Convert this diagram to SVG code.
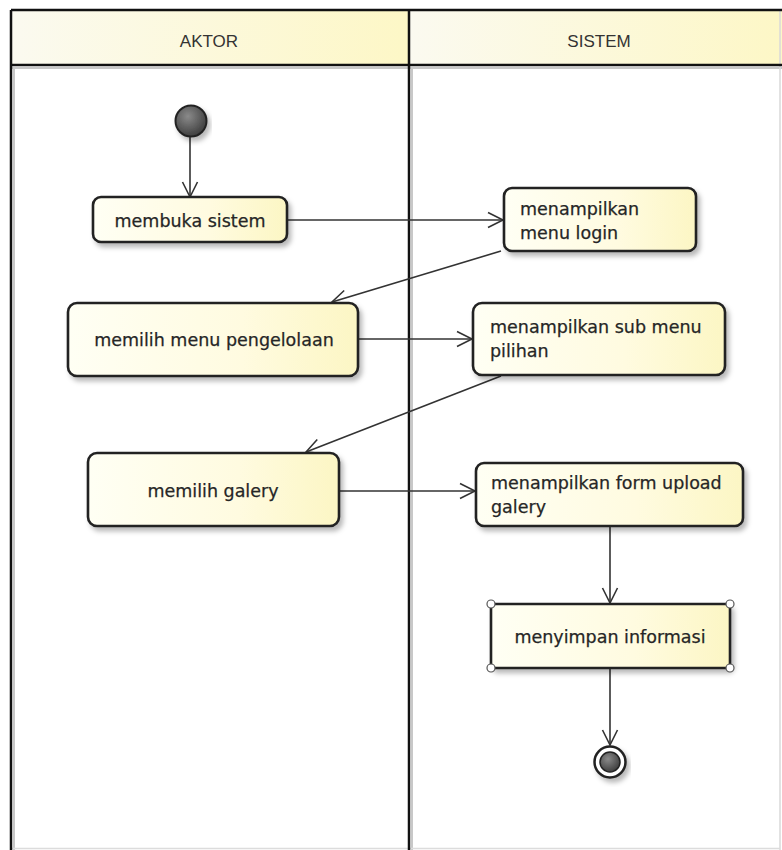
<svg xmlns="http://www.w3.org/2000/svg" width="782" height="850" viewBox="0 0 782 850">
<defs>
<linearGradient id="boxg" x1="0" y1="0" x2="1" y2="0">
<stop offset="0" stop-color="#fffff4"/>
<stop offset="0.6" stop-color="#fffbe0"/>
<stop offset="1" stop-color="#fcf6c4"/>
</linearGradient>
<linearGradient id="hdrg" x1="0" y1="0" x2="1" y2="0">
<stop offset="0" stop-color="#fbfaf0"/>
<stop offset="1" stop-color="#fdf7c6"/>
</linearGradient>
<radialGradient id="dotg" cx="0.4" cy="0.35" r="0.7">
<stop offset="0" stop-color="#8a8a8a"/>
<stop offset="1" stop-color="#3a3a3a"/>
</radialGradient>
<filter id="sh" x="-10%" y="-10%" width="125%" height="140%">
<feDropShadow dx="3" dy="4" stdDeviation="2.5" flood-color="#000" flood-opacity="0.28"/>
</filter>
<marker id="arr" markerWidth="18" markerHeight="18" viewBox="0 0 18 18" refX="16" refY="9" orient="auto" markerUnits="userSpaceOnUse">
<path d="M1,1.5 L16,9 L1,16.5" fill="none" stroke="#333" stroke-width="1.6"/>
</marker>
<style>
.lane{fill:none;stroke:#111;stroke-width:2.5}
.lanesh{fill:none;stroke:#c8c8c8;stroke-width:2}
.hdr{font-family:"Liberation Sans",Arial,sans-serif;font-size:17px;fill:#333;text-anchor:middle}
.box{fill:url(#boxg);stroke:#222;stroke-width:2.6;filter:url(#sh)}
.t{font-family:"DejaVu Sans",Verdana,sans-serif;font-size:17.5px;fill:#262626;stroke:#262626;stroke-width:0.25}
.c{text-anchor:middle}
.edge{fill:none;stroke:#333;stroke-width:1.6;marker-end:url(#arr)}
.hdl{fill:#fff;stroke:#555;stroke-width:1.2}
</style>
</defs>
<rect width="782" height="850" fill="#fff"/>
<g id="lanes">
<rect x="11" y="10" width="398" height="55" fill="url(#hdrg)"/>
<rect x="409" y="10" width="373" height="55" fill="url(#hdrg)"/>
<line class="lanesh" x1="14" y1="68" x2="14" y2="850"/>
<line class="lanesh" x1="412" y1="68" x2="412" y2="850"/>
<line class="lanesh" x1="11" y1="68" x2="782" y2="68"/>
<line x1="780" y1="10" x2="780" y2="850" stroke="#d8d8d8" stroke-width="1.5"/>
<line x1="11" y1="848.5" x2="780" y2="848.5" stroke="#dcdcdc" stroke-width="1.5"/>
<line class="lane" x1="11" y1="10" x2="782" y2="10"/>
<line class="lane" x1="11" y1="65" x2="782" y2="65"/>
<line class="lane" x1="11" y1="10" x2="11" y2="850"/>
<line class="lane" x1="409" y1="10" x2="409" y2="850"/>
<text class="hdr" x="209" y="47">AKTOR</text>
<text class="hdr" x="599" y="47">SISTEM</text>
</g>
<g id="connectors">
<line class="edge" x1="190" y1="137" x2="190" y2="197"/>
<line class="edge" x1="287" y1="220" x2="503" y2="220"/>
<line class="edge" x1="501" y1="251" x2="332" y2="302"/>
<line class="edge" x1="358" y1="339" x2="472" y2="339"/>
<line class="edge" x1="501" y1="376" x2="306" y2="452"/>
<line class="edge" x1="339" y1="491" x2="475" y2="491"/>
<line class="edge" x1="610" y1="526" x2="610" y2="603"/>
<line class="edge" x1="610" y1="668" x2="610" y2="745"/>
</g>
<g id="start">
<circle cx="191" cy="121" r="15.5" fill="url(#dotg)" stroke="#222" stroke-width="2" filter="url(#sh)"/>
</g>
<g id="n1">
<rect class="box" x="93" y="197" width="194" height="45" rx="8"/>
<text class="t c" x="190" y="227">membuka sistem</text>
</g>
<g id="n2">
<rect class="box" x="504" y="188" width="192" height="63" rx="8"/>
<text class="t" x="520" y="215">menampilkan</text>
<text class="t" x="520" y="239">menu login</text>
</g>
<g id="n3">
<rect class="box" x="68" y="303" width="290" height="73" rx="9"/>
<text class="t c" x="214" y="346">memilih menu pengelolaan</text>
</g>
<g id="n4">
<rect class="box" x="473" y="303" width="252" height="72" rx="9"/>
<text class="t" x="490" y="333">menampilkan sub menu</text>
<text class="t" x="490" y="357">pilihan</text>
</g>
<g id="n5">
<rect class="box" x="88" y="453" width="251" height="73" rx="9"/>
<text class="t c" x="213" y="497">memilih galery</text>
</g>
<g id="n6">
<rect class="box" x="476" y="463" width="267" height="63" rx="8"/>
<text class="t" x="491" y="489">menampilkan form upload</text>
<text class="t" x="491" y="513">galery</text>
</g>
<g id="n7">
<rect class="box" x="491" y="604" width="239" height="64" rx="4"/>
<text class="t c" x="610" y="643">menyimpan informasi</text>
<circle class="hdl" cx="491" cy="604" r="4"/>
<circle class="hdl" cx="730" cy="604" r="4"/>
<circle class="hdl" cx="491" cy="668" r="4"/>
<circle class="hdl" cx="730" cy="668" r="4"/>
</g>
<g id="end">
<circle cx="610" cy="762" r="15.5" fill="#fff" stroke="#222" stroke-width="2.5" filter="url(#sh)"/>
<circle cx="610" cy="762" r="10" fill="url(#dotg)" stroke="#222" stroke-width="1.5"/>
</g>
</svg>
